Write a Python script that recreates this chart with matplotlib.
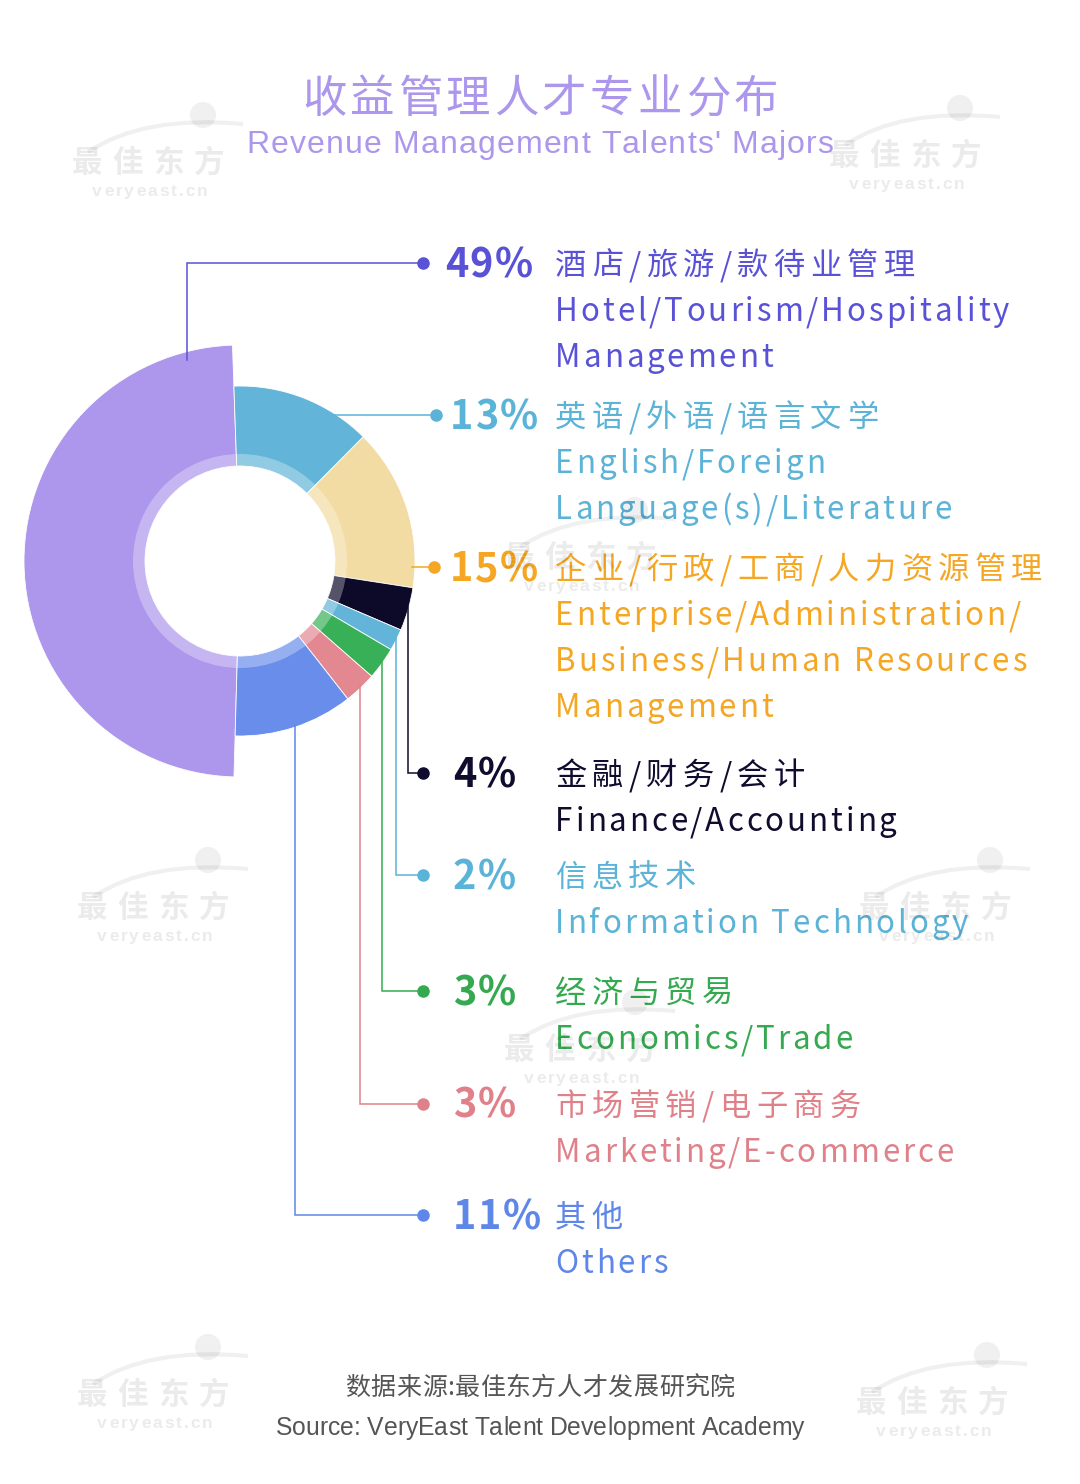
import matplotlib
matplotlib.use("Agg")
import matplotlib.pyplot as plt
from matplotlib import font_manager as fm
from matplotlib.patches import Wedge, Circle, PathPatch
from matplotlib.path import Path
import numpy as np

W, H, DPI = 1080, 1484, 100
CJK = "Noto Sans CJK SC"
LAT = "Liberation Sans"

# ---- data ----
shares = [49, 13, 15, 4, 2, 3, 3, 11]
names_cn = ["酒店/旅游/款待业管理", "英语/外语/语言文学", "企业/行政/工商/人力资源管理",
            "金融/财务/会计", "信息技术", "经济与贸易", "市场营销/电子商务", "其他"]
names_en = [["Hotel/Tourism/Hospitality", "Management"],
            ["English/Foreign", "Language(s)/Literature"],
            ["Enterprise/Administration/", "Business/Human Resources", "Management"],
            ["Finance/Accounting"],
            ["Information Technology"],
            ["Economics/Trade"],
            ["Marketing/E-commerce"],
            ["Others"]]

# ---- style / layout (pixels, y measured from top) ----
seg_col = ["#AC97EC", "#62B5D8", "#F3DCA3", "#0C0A28", "#62B5D8", "#37B057", "#E38891", "#688DEB"]
txt_col = ["#5A52D6", "#5BB3D8", "#F5A623", "#100C2E", "#5BB3D8", "#35A94F", "#E0818A", "#5F87E8"]
outer_r = [216, 175, 175, 175, 175, 175, 175, 175]
CX, CY, R_IN, R_BAND = 240, 561, 95, 107
ROT = 2.0
row_y = [263, 415, 567, 773, 875, 991, 1104, 1215]
dot_x = [423, 436, 434, 423, 423, 423, 423, 423]
pct_x = [445, 450, 450, 453, 453, 453, 453, 453]
TEXT_X = 555
LINE_GAP = 46

fig = plt.figure(figsize=(W / DPI, H / DPI), dpi=DPI)
ax = fig.add_axes([0, 0, 1, 1])
ax.set_xlim(0, W)
ax.set_ylim(0, H)
ax.axis("off")


def spaced(x, y, s, size, color, family, weight="normal", track=0.0,
           ha="left", alpha=1.0, z=3):
    """字距可调的文字: 逐字摆放 (y 为自上而下的基线像素)."""
    prop = fm.FontProperties(family=family, weight=weight, size=size)
    font = fm.get_font(fm.findfont(prop))
    font.set_size(size, 72)
    adv = [font.load_char(ord(c)).linearHoriAdvance / 65536 * DPI / 72 for c in s]
    total = sum(adv) + track * (len(s) - 1)
    if ha == "center":
        x -= total / 2
    for c, a in zip(s, adv):
        if c != " ":
            ax.text(x, H - y, c, fontproperties=prop, color=color, ha="left",
                    va="baseline", alpha=alpha, zorder=z)
        x += a + track


# ---- donut ----
start = 90 + ROT + 3.6 * shares[0]
edges = start - 3.6 * np.concatenate([[0], np.cumsum(shares)])
for i in range(len(shares)):
    t1, t2 = edges[i + 1], edges[i]
    ax.add_patch(Wedge((CX, H - CY), outer_r[i], t1, t2, width=outer_r[i] - R_IN,
                       facecolor=seg_col[i], edgecolor="white", linewidth=0.6, zorder=2))
ax.add_patch(Wedge((CX, H - CY), R_BAND, 0, 360, width=R_BAND - R_IN,
                   facecolor="white", edgecolor="none", alpha=0.3, zorder=2.5))

# ---- leader lines ----
lw = 1.1
for i in range(len(shares)):
    c = txt_col[i]
    ry = row_y[i]
    R = outer_r[i]
    mid = np.radians((edges[i] + edges[i + 1]) / 2)
    if i == 0:
        lx = 187
        y0 = CY - np.sqrt(R ** 2 - (lx - CX) ** 2) + 8
        xs, ys = [lx, lx, dot_x[i]], [y0, ry, ry]
    elif ry < CY + 10:
        x0 = CX + np.sqrt(R ** 2 - (ry - CY) ** 2) - 3
        xs, ys = [x0, dot_x[i]], [ry, ry]
    else:
        lx = CX + R * np.cos(mid)
        y0 = CY - R * np.sin(mid) - 2
        xs, ys = [lx, lx, dot_x[i]], [y0, ry, ry]
    ax.plot(xs, [H - v for v in ys], color=c, lw=lw, zorder=3,
            solid_joinstyle="miter")
    ax.plot(dot_x[i], H - ry, "o", color=c, markersize=8, zorder=4)

# ---- labels ----
for i in range(len(shares)):
    base = row_y[i] + 12
    spaced(pct_x[i], base + 2, f"{shares[i]}%", 28.5, txt_col[i], CJK,
           weight="bold", track=1.5)
    spaced(TEXT_X, base, names_cn[i], 22.5, txt_col[i], CJK, track=5.4)
    for k, line in enumerate(names_en[i]):
        spaced(TEXT_X, base + LINE_GAP * (k + 1), line, 22.5, txt_col[i], CJK, track=2.9)

# ---- title ----
spaced(540, 112, "收益管理人才专业分布", 32, "#AC97EC", CJK, track=3.5, ha="center")
spaced(540, 153, "Revenue Management Talents' Majors", 23, "#AC97EC", LAT,
       track=1.2, ha="center")

# ---- footer ----
spaced(540, 1395, "数据来源:最佳东方人才发展研究院", 18, "#555555", CJK, track=0.5,
       ha="center")
spaced(540, 1435, "Source: VeryEast Talent Development Academy", 17.8, "#555555", LAT,
       ha="center")

# ---- watermarks ----
marks = [(148, 160), (905, 153), (580, 555), (153, 905), (935, 905),
         (580, 1047), (153, 1392), (932, 1400)]
for mx, my in marks:
    spaced(mx, my + 12, "最佳东方", 22, "black", CJK, weight="bold", track=10,
           ha="center", alpha=0.08, z=6)
    spaced(mx + 2, my + 36, "veryeast.cn", 12.5, "black", LAT, weight="bold",
           track=2, ha="center", alpha=0.08, z=6)
    verts = [(mx - 60, H - (my - 8)), (mx - 5, H - (my - 45)), (mx + 95, H - (my - 36))]
    ax.add_patch(PathPatch(Path(verts, [Path.MOVETO, Path.CURVE3, Path.CURVE3]),
                           facecolor="none", edgecolor="black", lw=3, alpha=0.06, zorder=6))
    ax.add_patch(Circle((mx + 55, H - (my - 45)), 13, facecolor="black",
                        edgecolor="none", alpha=0.06, zorder=6))

fig.savefig("out.png", dpi=DPI)
